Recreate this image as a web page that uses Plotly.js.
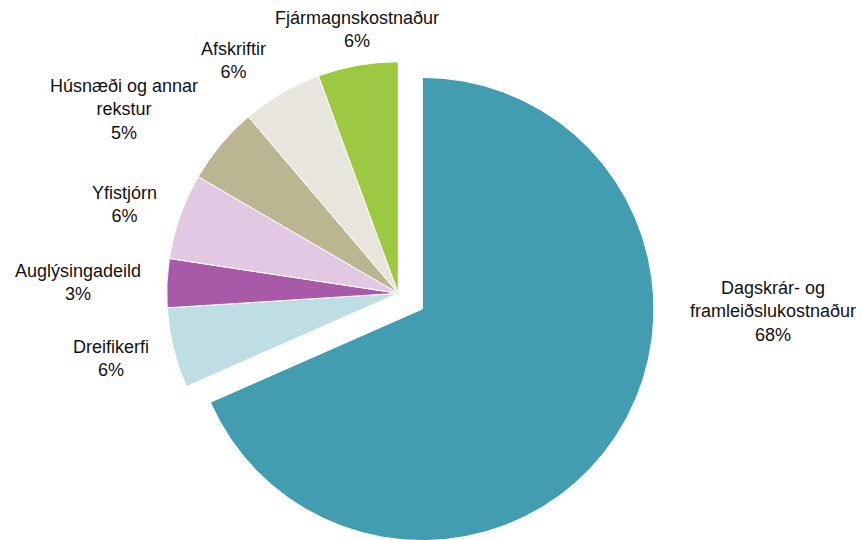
<!DOCTYPE html>
<html>
<head>
<meta charset="utf-8">
<script src="https://cdn.plot.ly/plotly-3.0.1.min.js"></script>
<style>
html,body{margin:0;padding:0;background:#fff;}
#wrap{width:862px;height:540px;overflow:hidden;position:relative;}
#chart{width:862px;height:590px;}
</style>
</head>
<body>
<div id="wrap"><div id="chart"></div></div>
<script>
// Data
var categories = ["Dagskrár- og framleiðslukostnaður", "Dreifikerfi", "Auglýsingadeild", "Yfistjórn", "Húsnæði og annar rekstur", "Afskriftir", "Fjármagnskostnaður"];
var labelText = ["Dagskrár- og<br>framleiðslukostnaður", "Dreifikerfi", "Auglýsingadeild", "Yfistjórn", "Húsnæði og annar<br>rekstur", "Afskriftir", "Fjármagnskostnaður"];
var shares = [68.4, 5.6, 3.4, 6.0, 5.4, 5.6, 5.6];
var colors = ["#419DAF", "#BFDEE3", "#A85AA8", "#E2C8E3", "#BBB592", "#E8E6DC", "#9DC942"];
var pulls = [0.124, 0, 0, 0, 0, 0, 0];

// Layout geometry (pixels)
var W = 862, H = 590;
var cx = 398.3, cy = 293.3, r = 231.6;
var maxPull = Math.max.apply(null, pulls);
var half = r * (1 + maxPull);
var dom = {
  x: [(cx - half) / W, (cx + half) / W],
  y: [1 - (cy + half) / H, 1 - (cy - half) / H]
};

// label centre positions in px
var labelPos = [[773, 311], [111, 358], [78, 282], [124, 205], [124, 110], [233, 60.5], [357, 29.5]];

var total = shares.reduce(function(a, b){ return a + b; }, 0);
var annotations = labelText.map(function(t, i){
  return {
    text: t + "<br>" + Math.round(shares[i] / total * 100) + "%",
    x: labelPos[i][0] / W, y: 1 - labelPos[i][1] / H,
    xref: "paper", yref: "paper", xanchor: "center", yanchor: "middle",
    showarrow: false, align: "center",
    font: {family: "Liberation Sans, Arial, sans-serif", size: 18, color: "#111"}
  };
});

var trace = {
  type: "pie",
  labels: categories,
  values: shares,
  sort: false,
  direction: "clockwise",
  rotation: 0,
  pull: pulls,
  marker: {colors: colors, line: {color: "#ffffff", width: 1}},
  textinfo: "none",
  hoverinfo: "label+percent",
  domain: dom
};

Plotly.newPlot("chart", [trace], {
  width: W, height: H,
  margin: {l: 0, r: 0, t: 0, b: 0},
  showlegend: false,
  paper_bgcolor: "#fff",
  annotations: annotations
}, {displayModeBar: false, staticPlot: true});
</script>
</body>
</html>
